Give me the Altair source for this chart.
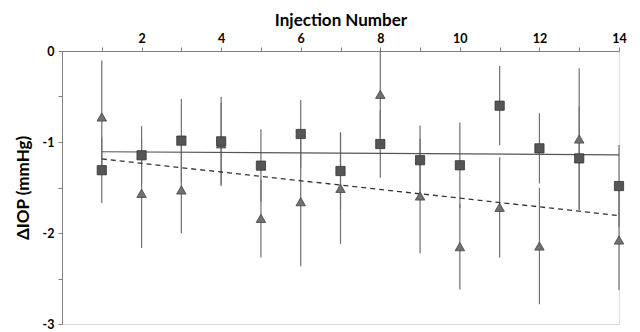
import altair as alt
import pandas as pd

injection = list(range(1, 15))
sq_mean = [-1.31, -1.146, -0.985, -0.993, -1.26, -0.912, -1.319, -1.022, -1.20, -1.256, -0.601, -1.07, -1.18, -1.484]
sq_err = [0.36, 0.32, 0.458, 0.49, 0.40, 0.374, 0.425, 0.37, 0.38, 0.47, 0.436, 0.385, 0.57, 0.45]
tri_mean = [-0.725, -1.564, -1.527, -1.02, -1.839, -1.656, -1.509, -0.476, -1.593, -2.15, -1.718, -2.143, -0.967, -2.077]
tri_err = [0.62, 0.60, 0.477, 0.45, 0.43, 0.71, 0.61, 0.48, 0.63, 0.47, 0.55, 0.64, 0.777, 0.55]

sq = pd.DataFrame({"x": injection, "m": sq_mean, "e": sq_err, "s": "sq"})
tri = pd.DataFrame({"x": injection, "m": tri_mean, "e": tri_err, "s": "tri"})
df = pd.concat([sq, tri], ignore_index=True)

xs = alt.Scale(domain=[0, 14], nice=False, zero=False)
ys = alt.Scale(domain=[-3, 0], nice=False, zero=False)

FONT = "Lato"
xaxis = alt.Axis(orient="top", title="Injection Number", values=list(range(1, 15)),
                 labelExpr="datum.value % 2 == 0 ? '' + datum.value : ''",
                 grid=False, domainColor="#808080", tickColor="#808080", tickSize=4,
                 labelFont=FONT, labelFontWeight="bold", labelFontSize=12.5, labelColor="#000",
                 titleFont=FONT, titleFontWeight="bold", titleFontSize=17, titleColor="#000",
                 titlePadding=3, labelPadding=2, labelFlush=False)
yvals = [-3 + 0.25 * i for i in range(13)]
yaxis = alt.Axis(orient="left", title="ΔIOP (mmHg)", values=yvals,
                 labelExpr="datum.value % 1 == 0 ? '' + datum.value : ''",
                 grid=False, domainColor="#808080", tickColor="#808080", tickSize=4,
                 labelFont=FONT, labelFontWeight="bold", labelFontSize=12.5, labelColor="#000",
                 titleFont=FONT, titleFontWeight="bold", titleFontSize=17, titleColor="#000",
                 titlePadding=10, labelPadding=4)

base = alt.Chart(df)

bars = base.transform_calculate(lo="datum.m - datum.e", hi="datum.m + datum.e").mark_rule(
    color="#707070", strokeWidth=1.2).encode(
    x=alt.X("x:Q", scale=xs, axis=xaxis),
    y=alt.Y("lo:Q", scale=ys, axis=yaxis),
    y2="hi:Q")

trend_sq = alt.Chart(sq).transform_regression("x", "m").mark_line(
    color="#555555", strokeWidth=1.2).encode(x=alt.X("x:Q", scale=xs), y=alt.Y("m:Q", scale=ys))
trend_tri = alt.Chart(tri).transform_regression("x", "m").mark_line(
    color="#333333", strokeWidth=1.3, strokeDash=[5, 4]).encode(x=alt.X("x:Q", scale=xs), y=alt.Y("m:Q", scale=ys))

pts_sq = alt.Chart(sq).mark_point(shape="square", filled=True, size=85, color="#555555",
                                  stroke="#333333", strokeWidth=0.8, opacity=1).encode(
    x=alt.X("x:Q", scale=xs), y=alt.Y("m:Q", scale=ys))
pts_tri = alt.Chart(tri).mark_point(shape="triangle-up", filled=True, size=90, color="#707070",
                                    stroke="#444444", strokeWidth=0.8, opacity=1).encode(
    x=alt.X("x:Q", scale=xs), y=alt.Y("m:Q", scale=ys))

chart = alt.layer(bars, trend_sq, trend_tri, pts_tri, pts_sq).properties(
    width=557, height=273,
    autosize=alt.AutoSizeParams(type="none"),
    padding={"left": 54, "top": 43, "right": 13, "bottom": 7},
).configure_view(stroke=None).configure(background="white")

chart.save("out.html", embed_options={"renderer": "svg", "actions": False})
